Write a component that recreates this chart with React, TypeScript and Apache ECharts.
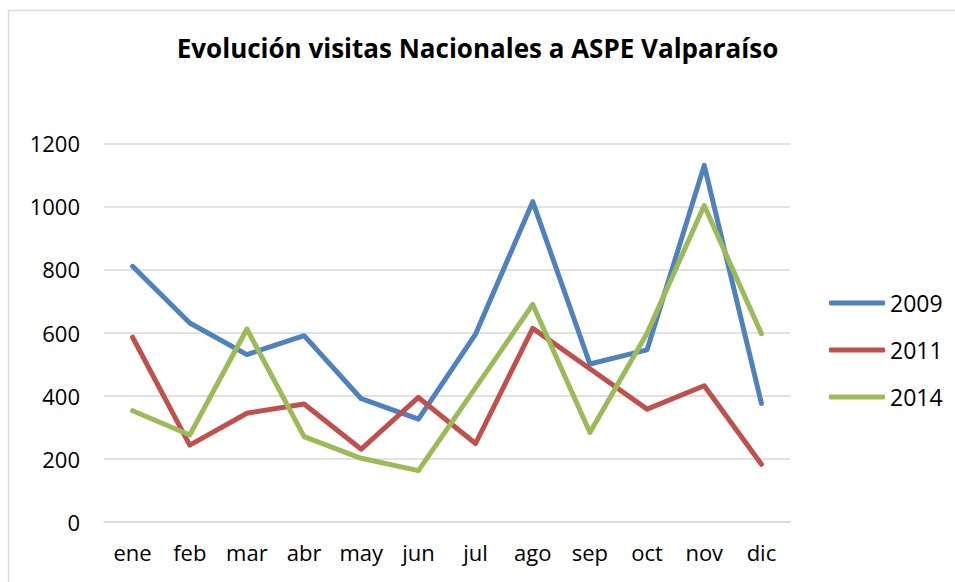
import React, { useEffect, useRef } from "react";
import * as echarts from "echarts";

const months = ["ene", "feb", "mar", "abr", "may", "jun", "jul", "ago", "sep", "oct", "nov", "dic"];
const yTicks = [0, 200, 400, 600, 800, 1000, 1200];
const s2009 = [810, 630, 530, 590, 390, 325, 595, 1015, 500, 545, 1130, 375];
const s2011 = [585, 243, 344, 373, 230, 394, 248, 613, 485, 357, 431, 182];
const s2014 = [352, 275, 611, 270, 201, 162, 425, 689, 283, 598, 1003, 596];
const seriesNames = ["2009", "2011", "2014"];
const colors = ["#4F81BD", "#C0504D", "#9BBB59"];

export default function App() {
  const ref = useRef<HTMLDivElement>(null);
  useEffect(() => {
    if (!ref.current) return;
    const chart = echarts.init(ref.current, undefined, { renderer: "svg" });
    const font = "'Open Sans', 'Noto Sans', sans-serif";
    const data = [s2009, s2011, s2014];
    chart.setOption({
      animation: false,
      backgroundColor: "#ffffff",
      title: {
        text: "Evolución visitas Nacionales a ASPE Valparaíso",
        left: "center",
        top: 30,
        textStyle: { fontFamily: font, fontSize: 26, fontWeight: "bold", color: "#000000" },
      },
      graphic: [
        {
          type: "rect",
          shape: { x: 8.5, y: 10.5, width: 1200, height: 1200 },
          style: { fill: "none", stroke: "#d9d9d9", lineWidth: 1.5 },
          silent: true,
        },
      ],
      legend: {
        orient: "vertical",
        left: 824,
        top: 286,
        itemWidth: 56,
        itemHeight: 5,
        itemGap: 23,
        icon: "roundRect",
        textStyle: { fontFamily: font, fontSize: 23, color: "#000000", lineHeight: 24 },
        data: seriesNames,
      },
      grid: { left: 104, right: 165, top: 143.3, bottom: 60.3, containLabel: false },
      xAxis: {
        type: "category",
        data: months,
        boundaryGap: true,
        axisLine: { show: true, lineStyle: { color: "#d9d9d9", width: 1.5 } },
        axisTick: { show: false },
        axisLabel: { fontFamily: font, fontSize: 22, color: "#000000", margin: 19 },
      },
      yAxis: {
        type: "value",
        min: yTicks[0],
        max: yTicks[yTicks.length - 1],
        interval: 200,
        axisLine: { show: false },
        axisTick: { show: false },
        axisLabel: {
          fontFamily: font,
          fontSize: 22,
          color: "#000000",
          margin: 24,
          formatter: (v: number) => String(v),
        },
        splitLine: { lineStyle: { color: "#d9d9d9", width: 1.5 } },
      },
      series: seriesNames.map((name, i) => ({
        name,
        type: "line",
        data: data[i],
        symbol: "none",
        smooth: false,
        itemStyle: { color: colors[i] },
        lineStyle: { color: colors[i], width: 5, cap: "round", join: "round" },
      })),
    });
    return () => chart.dispose();
  }, []);
  return (
    <div
      ref={ref}
      style={{ position: "fixed", left: 0, top: 0, width: 955, height: 582 }}
    />
  );
}
